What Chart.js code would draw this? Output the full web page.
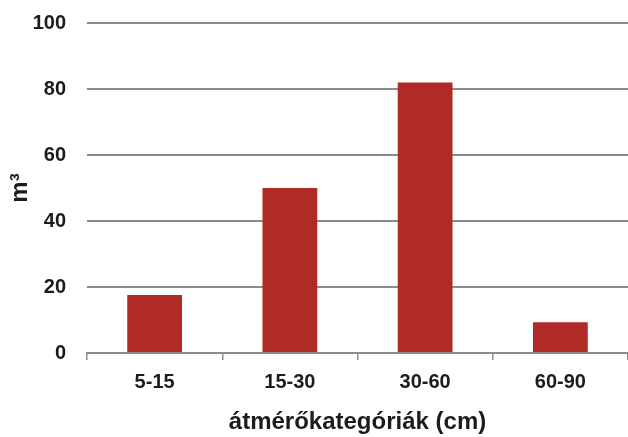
<!DOCTYPE html>
<html>
<head>
<meta charset="utf-8">
<script src="https://cdn.jsdelivr.net/npm/chart.js@4.4.1/dist/chart.umd.min.js"></script>
<style>
  html, body { margin: 0; padding: 0; background: #fff; }
  #wrap { width: 628px; height: 437px; position: relative; }
</style>
</head>
<body>
<div id="wrap"><canvas id="volumeChart"></canvas></div>
<script>
    // Diameter classes and timber volume per class
    const categories = ['5-15', '15-30', '30-60', '60-90'];
    const volumes = [17.6, 50, 82, 9.3];
    const yTicks = [0, 20, 40, 60, 80, 100];

    const barColor = '#b02a26';
    const gridColor = '#8c8c8c';
    const textColor = '#1c1c1c';
    const fontFamily = '"Liberation Sans", Arial, sans-serif';

    const ctx = document.getElementById('volumeChart');
    new Chart(ctx, {
        type: 'bar',
        data: {
            labels: categories,
            datasets: [{
                data: volumes,
                backgroundColor: barColor,
                borderWidth: 0,
                barPercentage: 0.405,
                categoryPercentage: 1.0
            }]
        },
        options: {
            responsive: true,
            maintainAspectRatio: false,
            animation: false,
            layout: { padding: { top: 23, right: 0, bottom: 0, left: 0 } },
            plugins: {
                legend: { display: false },
                tooltip: { enabled: false }
            },
            scales: {
                x: {
                    offset: true,
                    grid: {
                        offset: true,
                        drawOnChartArea: false,
                        drawTicks: true,
                        tickLength: 7,
                        color: gridColor,
                        lineWidth: 1.5
                    },
                    border: { display: true, color: gridColor, width: 2 },
                    ticks: {
                        color: textColor,
                        padding: 10,
                        font: { family: fontFamily, size: 20, weight: 'bold' }
                    },
                    title: {
                        display: true,
                        text: 'átmérőkategóriák (cm)',
                        color: textColor,
                        padding: { top: 8, bottom: 0 },
                        font: { family: fontFamily, size: 24, weight: 'bold' }
                    },
                    afterFit: function (scale) {
                        scale.height = 84;
                        scale.paddingLeft = 0;
                        scale.paddingRight = 0;
                    }
                },
                y: {
                    min: 0,
                    max: 100,
                    afterBuildTicks: function (scale) {
                        scale.ticks = yTicks.map(v => ({ value: v }));
                    },
                    grid: {
                        drawTicks: false,
                        color: gridColor,
                        lineWidth: 2
                    },
                    border: { display: false },
                    ticks: {
                        color: textColor,
                        padding: 21,
                        font: { family: fontFamily, size: 20, weight: 'bold' }
                    },
                    title: {
                        display: true,
                        text: 'm³',
                        color: textColor,
                        padding: { top: 6, bottom: 4 },
                        font: { family: fontFamily, size: 24, weight: 'bold' }
                    },
                    afterFit: function (scale) {
                        scale.width = 87;
                        scale.paddingTop = 0;
                        scale.paddingBottom = 0;
                    }
                }
            }
        }
    });
</script>
</body>
</html>
